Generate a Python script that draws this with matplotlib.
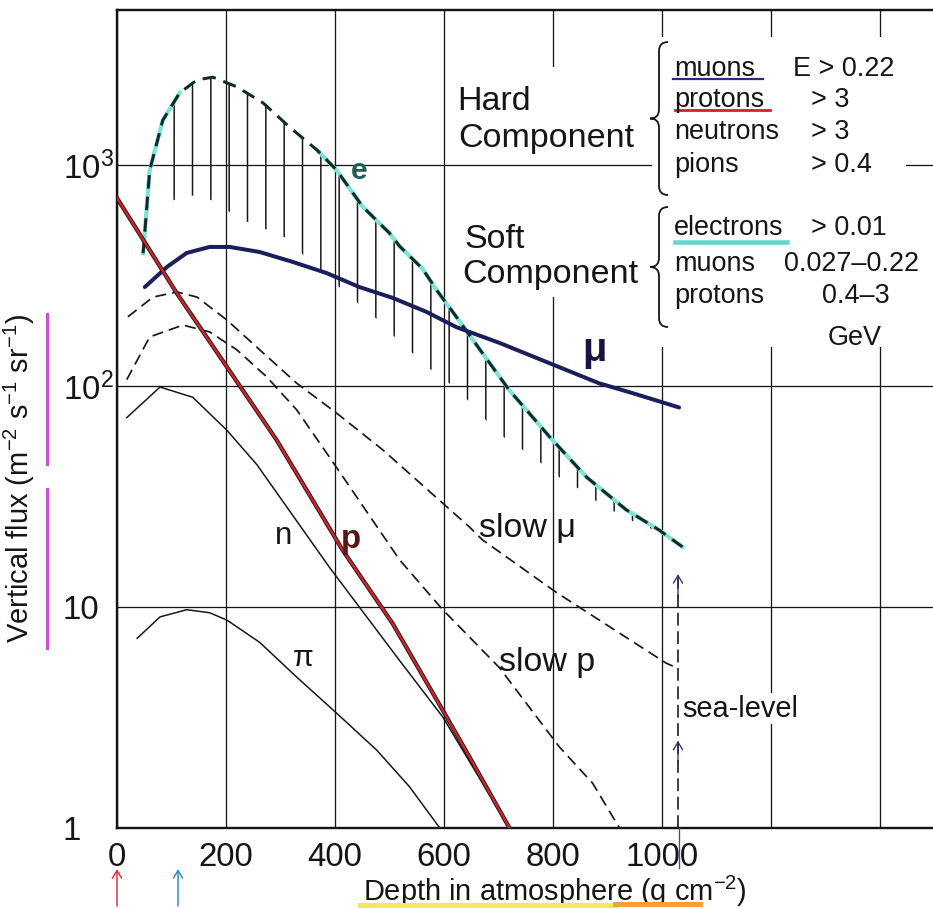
import numpy as np
import matplotlib.pyplot as plt
from matplotlib.path import Path
from matplotlib.patches import PathPatch, Rectangle
from matplotlib.lines import Line2D
from matplotlib.ticker import NullLocator

# Flux vertical des rayons cosmiques en fonction de la profondeur dans l'atmosphere
DPI = 110
W, H = 934, 909
PX = 72 / DPI            # 1 pixel en points

# profondeur (g cm^-2) et flux (m^-2 s^-1 sr^-1)
e_depth = [48, 60, 84, 115, 147, 176, 220, 268, 317, 367, 403, 451, 500, 519,
           561, 587, 623, 671, 720, 794, 862, 935, 995, 1038]
e_flux = [400, 950, 1600, 2130, 2440, 2510, 2270, 1920, 1490, 1175, 953, 650, 494, 430,
          340, 272, 206, 141, 96, 59, 38.7, 27.5, 22.3, 18.7]

# borne basse de la zone hachuree sous la courbe e
band_depth = [84, 117, 150, 185, 218, 253, 286, 319, 354, 387, 418, 451, 486, 519,
              550, 583, 620, 653, 689, 720, 753, 788, 818, 852, 885, 918, 953, 986]
band_low = [661, 719, 734, 676, 584, 537, 499, 459, 361, 312, 267, 228, 193, 158,
            136, 115, 99, 82, 65, 56, 50, 43, 37.6, 33.8, 29.5, 26.6, 24, 22.3]

mu_depth = [51, 92, 128, 170, 207, 262, 323, 385, 445, 506, 568, 623, 702, 794, 885, 946, 1032]
mu_flux = [281, 347, 401, 427, 427, 405, 365, 325, 281, 251, 217, 185, 157, 127, 103, 93, 80]

p_depth = [0, 110, 293, 414, 506, 598, 647, 720]
p_flux = [711, 263, 57, 18.1, 8.4, 3.4, 2.09, 1.0]

n_depth = [18, 79, 139, 202, 257, 390, 519, 598, 720]
n_flux = [72, 99, 89, 63, 44, 15.1, 5.7, 3.17, 1.0]

pi_depth = [37, 79, 128, 170, 202, 262, 330, 403, 477, 537, 592]
pi_flux = [7.2, 9.0, 9.7, 9.4, 8.7, 6.9, 4.8, 3.3, 2.24, 1.53, 1.0]

slow_mu_depth = [20, 66, 110, 147, 202, 262, 330, 403, 488, 647, 671, 807, 1008, 1027]
slow_mu_flux = [206, 253, 267, 253, 199, 146, 103, 75.5, 51.4, 23, 20.1, 11.6, 5.56, 5.3]

slow_p_depth = [18, 60, 121, 170, 220, 275, 330, 390, 519, 598, 647, 702, 812, 873, 922]
slow_p_flux = [107, 167, 189, 176, 146, 110, 78, 47.7, 16.3, 9.7, 7.3, 5.3, 2.32, 1.59, 1.0]

sea_depth = 1030

xticks = [0, 200, 400, 600, 800, 1000, 1200, 1400]
xlabels = ['0', '200', '400', '600', '800', '1000', '', '']
yticks = [1, 10, 100, 1000]
ylabels = ['1', '10', '$10^2$', '$10^3$']

hard_names = ['muons', 'protons', 'neutrons', 'pions']
hard_cuts = ['E > 0.22', '> 3', '> 3', '> 0.4']
soft_names = ['electrons', 'muons', 'protons']
soft_cuts = ['> 0.01', '0.027\u20130.22', '0.4\u20133']

plt.rcParams['font.family'] = ['Liberation Sans', 'DejaVu Sans']
plt.rcParams['mathtext.default'] = 'regular'
plt.rcParams['hatch.linewidth'] = 1.5 * PX
ink = '#151515'


def fx(x):
    return x / W


def fy(y):
    return 1 - y / H


fig = plt.figure(figsize=(W / DPI, H / DPI), dpi=DPI)
ax = fig.add_axes([117 / W, 1 - 827.5 / H, 817 / W, 817.5 / H])
ax.set_yscale('log')
ax.set_xlim(0, 1500)
ax.set_ylim(1, 10 ** 3.704)

ax.set_xticks(xticks)
ax.set_xticklabels(xlabels)
ax.set_yticks(yticks)
ax.set_yticklabels(ylabels)
ax.yaxis.set_minor_locator(NullLocator())
ax.tick_params(length=0, labelsize=33 * PX, colors=ink)
ax.tick_params(axis='x', pad=15 * PX)
ax.tick_params(axis='y', pad=54 * PX)
for t in ax.get_yticklabels():
    t.set_ha('left')

ax.grid(axis='x', color=ink, lw=1.3 * PX)
ax.set_axisbelow(True)
for v in yticks[1:]:
    ax.axhline(v, color=ink, lw=1.3 * PX, zorder=1.5)
for s in ['left', 'top', 'bottom']:
    ax.spines[s].set_linewidth(2.4 * PX)
    ax.spines[s].set_color(ink)
ax.spines['right'].set_visible(False)

# zones blanches sous les textes (le quadrillage y est interrompu)
ax.add_patch(Rectangle((fx(547), fy(297)), 12 / W, 230 / H, transform=fig.transFigure,
                       fc='white', ec='none', zorder=1, clip_on=False))
ax.add_patch(Rectangle((fx(652), fy(347)), 254 / W, 310 / H, transform=fig.transFigure,
                       fc='white', ec='none', zorder=2, clip_on=False))

# courbes fines
ax.plot(n_depth, n_flux, color=ink, lw=1.5 * PX, zorder=3)
ax.plot(pi_depth, pi_flux, color=ink, lw=1.5 * PX, zorder=3)
ax.plot(slow_mu_depth, slow_mu_flux, color=ink, lw=1.7 * PX, ls=(0, (6.5, 3.6)), zorder=3)
ax.plot(slow_p_depth, slow_p_flux, color=ink, lw=1.7 * PX, ls=(0, (6.5, 3.6)), zorder=3)

# zone hachuree des electrons
top_d = [d for d in e_depth if 84 <= d <= 995]
top_f = [f for d, f in zip(e_depth, e_flux) if 84 <= d <= 995]
ax.fill(top_d + band_depth[::-1], top_f + band_low[::-1], facecolor='none',
        edgecolor=ink, lw=0, hatch='|', zorder=2.5)

# electrons (surlignage cyan + tirets)
ax.plot(e_depth[:4], e_flux[:4], color='#7fe2d6', lw=4.2 * PX, zorder=3.5)
ax.plot(e_depth[9:], e_flux[9:], color='#7fe2d6', lw=4.2 * PX, zorder=3.5)
ax.plot(e_depth, e_flux, color='#0f2b28', lw=3.0 * PX, ls=(0, (4.5, 2.7)), zorder=4)

# muons et protons
ax.plot(mu_depth, mu_flux, color='#1b1e5c', lw=4 * PX, zorder=4, solid_capstyle='round')
ax.plot(p_depth, p_flux, color=ink, lw=4.2 * PX, zorder=4.2)
ax.plot(p_depth, p_flux, color='#d2232a', lw=2.4 * PX, zorder=4.3)

# niveau de la mer
ax.plot([sea_depth, sea_depth], [1, 13.5], color=ink, lw=1.6 * PX, ls=(0, (8, 3.5)), zorder=3)
for y0, y1 in [(10.5, 14.5), (1.9, 2.55)]:
    ax.annotate('', xy=(sea_depth, y1), xytext=(sea_depth, y0),
                arrowprops=dict(arrowstyle='->,head_length=0.5,head_width=0.3',
                                color='#27306b', lw=1.3 * PX), zorder=5)

# etiquettes des courbes
ax.text(445, 944, 'e', fontsize=30 * PX, fontweight='bold', color='#1d5c58',
        ha='center', va='center', zorder=6)
ax.text(876, 146, '\u03bc', fontsize=40 * PX, fontweight='bold', color='#14163f',
        ha='center', va='center', zorder=6)
ax.text(306, 20.9, 'n', fontsize=31 * PX, color=ink, ha='center', va='center', zorder=6)
ax.text(429, 20.1, 'p', fontsize=33 * PX, fontweight='bold', color='#5a1414',
        ha='center', va='center', zorder=6)
ax.text(341, 5.86, '\u03c0', fontsize=30 * PX, color=ink, ha='center', va='center', zorder=6)
ax.text(665, 20.7, 'slow \u03bc', fontsize=34 * PX, color=ink, va='baseline', zorder=6)
ax.text(702, 5.12, 'slow p', fontsize=34 * PX, color=ink, va='baseline', zorder=6)
ax.text(1038, 3.17, 'sea-level', fontsize=29 * PX, color=ink, va='baseline', zorder=6,
        bbox=dict(fc='white', ec='none', pad=1))

ax.set_xlabel('Depth in atmosphere (g cm$^{-2}$)', fontsize=29 * PX, color=ink)
ax.xaxis.set_label_coords((555 - 117) / 817, (827.5 - 874) / 817.5)
ax.set_ylabel('Vertical flux (m$^{-2}$ s$^{-1}$ sr$^{-1}$)', fontsize=29 * PX, color=ink)
ax.yaxis.set_label_coords((37 - 117) / 817, (827.5 - 478) / 817.5)

# composantes dure et molle
big = 34 * PX
fig.text(fx(457), fy(110), 'Hard', fontsize=big, color=ink, va='baseline')
fig.text(fx(458), fy(147), 'Component', fontsize=big, color=ink, va='baseline')
fig.text(fx(464), fy(248), 'Soft', fontsize=big, color=ink, va='baseline')
fig.text(fx(462), fy(283), 'Component', fontsize=big, color=ink, va='baseline')


def brace(x_tip, y_top, y_bot, w=18):
    xm, xr = x_tip + w / 2, x_tip + w
    ym = (y_top + y_bot) / 2
    r = w / 2
    pts = [(xr, y_top), (xm, y_top), (xm, y_top + r), (xm, ym - r), (xm, ym), (x_tip, ym),
           (xm, ym), (xm, ym + r), (xm, y_bot - r), (xm, y_bot), (xr, y_bot)]
    codes = [Path.MOVETO, Path.CURVE3, Path.CURVE3, Path.LINETO, Path.CURVE3, Path.CURVE3,
             Path.CURVE3, Path.CURVE3, Path.LINETO, Path.CURVE3, Path.CURVE3]
    path = Path([(fx(x), fy(y)) for x, y in pts], codes)
    fig.add_artist(PathPatch(path, fc='none', ec=ink, lw=1.8 * PX, transform=fig.transFigure))


brace(650, 42, 195)
brace(650, 207, 327)

small = 27 * PX
hard_rows = [76, 107, 139, 172]
hard_cut_x = [793, 811, 811, 811]
for name, cut, y, xc in zip(hard_names, hard_cuts, hard_rows, hard_cut_x):
    fig.text(fx(674), fy(y), name, fontsize=small, color=ink, va='baseline')
    fig.text(fx(xc), fy(y), cut, fontsize=small, color=ink, va='baseline')
soft_rows = [235, 271, 303]
soft_cut_x = [811, 784, 822]
for name, cut, y, xc in zip(soft_names, soft_cuts, soft_rows, soft_cut_x):
    fig.text(fx(674), fy(y), name, fontsize=small, color=ink, va='baseline')
    fig.text(fx(xc), fy(y), cut, fontsize=small, color=ink, va='baseline')
fig.text(fx(855), fy(345), 'GeV', fontsize=small, color=ink, va='baseline', ha='center')

# soulignages et traits de couleur ajoutes a la main
marks = [((673, 763), (79, 79), '#2b2f7a', 2.2),
         ((675, 770), (110, 110), '#d2232a', 2.8),
         ((675, 787), (242, 242), '#5fd8d0', 4.5),
         ((47, 47), (314, 464), '#d14fd6', 3),
         ((47, 47), (489, 648), '#d14fd6', 3),
         ((360, 615), (905, 905), '#f2e85a', 5),
         ((615, 700), (904, 904), '#f0a040', 5),
         ((679, 679), (828, 868), '#3b4a9e', 1.3)]
for xs, ys, c, lw in marks:
    fig.add_artist(Line2D([fx(x) for x in xs], [fy(y) for y in ys], color=c, lw=lw * PX,
                          transform=fig.transFigure))

for x, c in [(117, '#e0303a'), (178, '#2a8fd0')]:
    ax.annotate('', xy=(x, H - 866), xycoords='figure pixels', xytext=(x, 0),
                textcoords='figure pixels',
                arrowprops=dict(arrowstyle='->,head_length=0.5,head_width=0.3', color=c,
                                lw=1.5 * PX))

fig.savefig('out.png', dpi=DPI)
